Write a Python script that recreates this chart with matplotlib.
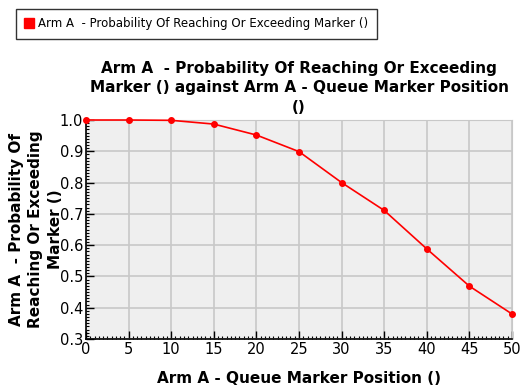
import matplotlib
matplotlib.use("Agg")
import matplotlib.pyplot as plt
from matplotlib.ticker import MultipleLocator

# values
positions = [0, 5, 10, 15, 20, 25, 30, 35, 40, 45, 50]
probability = [1.0, 1.0, 0.999, 0.987, 0.952, 0.899, 0.800, 0.711, 0.588, 0.469, 0.380]

series_name = "Arm A  - Probability Of Reaching Or Exceeding Marker ()"
title = ("Arm A  - Probability Of Reaching Or Exceeding\n"
         "Marker () against Arm A - Queue Marker Position\n()")
xlabel = "Arm A - Queue Marker Position ()"
ylabel = "Arm A  - Probability Of\nReaching Or Exceeding\nMarker ()"

plt.rcParams['font.family'] = ['DejaVu Sans']

fig = plt.figure(figsize=(5.2, 3.89), dpi=100)
ax = fig.add_axes([0.1654, 0.1285, 0.8192, 0.563])
ax.set_facecolor('#efefef')

line, = ax.plot(positions, probability, color='#ff0000', lw=1.2,
                marker='o', markersize=4, clip_on=False, zorder=3)

ax.set_xlim(0, 50)
ax.set_ylim(0.3, 1.0)
ax.xaxis.set_major_locator(MultipleLocator(5))
ax.xaxis.set_minor_locator(MultipleLocator(0.5))
ax.yaxis.set_major_locator(MultipleLocator(0.1))
ax.yaxis.set_minor_locator(MultipleLocator(0.01))
ax.yaxis.set_major_formatter(plt.FormatStrFormatter('%.1f'))

ax.grid(True, which='major', color='#c8c8c8', lw=1.2)
ax.set_axisbelow(True)
ax.tick_params(which='major', direction='in', length=6, width=1, labelsize=10.5, pad=2)
ax.tick_params(which='minor', direction='in', length=2.5, width=0.8)

for side in ['top', 'right']:
    ax.spines[side].set_color('#c8c8c8')
for side in ['left', 'bottom']:
    ax.spines[side].set_color('black')
    ax.spines[side].set_linewidth(1.2)

ax.set_title(title, fontsize=11, fontweight='bold', pad=6, linespacing=1.35)
ax.set_xlabel(xlabel, fontsize=11, fontweight='bold', labelpad=10)
ax.set_ylabel(ylabel, fontsize=11, fontweight='bold', labelpad=-2, linespacing=1.35)

handle = plt.Line2D([], [], color='#ff0000', marker='s', markersize=7, lw=0)
leg = fig.legend([handle], [series_name], loc='upper left',
                 bbox_to_anchor=(0.019, 0.992), fontsize=8.5, frameon=True,
                 fancybox=False, edgecolor='black', handlelength=0.8,
                 handletextpad=0.4, borderpad=0.7)
leg.get_frame().set_linewidth(1.0)

fig.savefig('out.png', dpi=100)
